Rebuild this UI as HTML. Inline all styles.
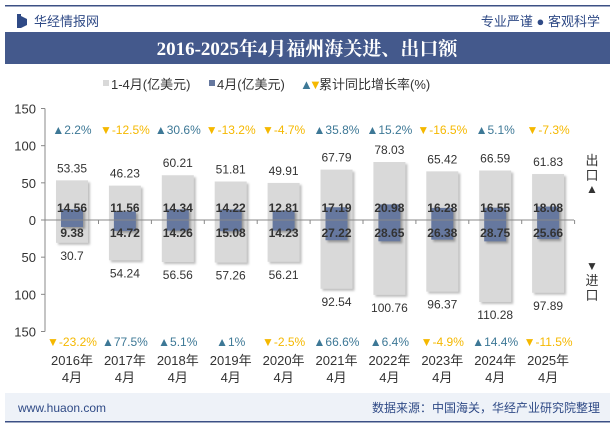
<!DOCTYPE html>
<html><head><meta charset="utf-8"><style>
body{margin:0;width:615px;height:427px;overflow:hidden;background:#fff;font-family:"Liberation Sans","Noto Sans CJK SC",sans-serif}
svg{display:block}
</style></head><body>
<svg id="c" width="615" height="427" xmlns="http://www.w3.org/2000/svg">
<rect x="5" y="5" width="605" height="1.5" fill="#3c5085"/>
<rect x="17" y="14" width="4" height="14" fill="#2f4a86"/>
<path d="M21 16 L27 19 L27 25 L21 28Z" fill="#2f4a86"/>
<text x="34" y="26" font-size="13" fill="#2f4a86">华经情报网</text>
<text x="600" y="26" font-size="13" fill="#2f4a86" text-anchor="end">专业严谨 ● 客观科学</text>
<rect x="5" y="32" width="605" height="32" fill="#44598c"/>
<text x="307" y="55" font-size="19" font-weight="bold" fill="#fff" text-anchor="middle" font-family="'Liberation Serif','Noto Serif CJK SC',serif">2016-2025年4月福州海关进、出口额</text>
<g font-size="13" fill="#333">
<rect x="103" y="80" width="6" height="6" fill="#d9d9d9"/>
<text x="111" y="89">1-4月(亿美元)</text>
<rect x="209" y="80" width="6" height="6" fill="#66789f"/>
<text x="217" y="89">4月(亿美元)</text>
<text x="300" y="89" fill="#3d7896">▲</text>
<text x="309" y="89" fill="#f5b800">▼</text>
<text x="319" y="89">累计同比增长率(%)</text>
</g>
<g id="plot"></g>
<text x="592" y="165" font-size="13" fill="#333" text-anchor="middle">出</text>
<text x="592" y="180" font-size="13" fill="#333" text-anchor="middle">口</text>
<text x="592" y="193" font-size="12" fill="#333" text-anchor="middle">▲</text>
<text x="592" y="270" font-size="12" fill="#333" text-anchor="middle">▼</text>
<text x="592" y="285" font-size="13" fill="#333" text-anchor="middle">进</text>
<text x="592" y="300" font-size="13" fill="#333" text-anchor="middle">口</text>
<rect x="5" y="393" width="605" height="29" fill="#eef2f8"/>
<rect x="5" y="421" width="605" height="1.5" fill="#3c5085"/>
<text x="18" y="412" font-size="12" fill="#2f4a86">www.huaon.com</text>
<text x="600" y="412" font-size="12" fill="#2f4a86" text-anchor="end">数据来源：中国海关，华经产业研究院整理</text>
</svg>
<script>
const years=["2016年","2017年","2018年","2019年","2020年","2021年","2022年","2023年","2024年","2025年"];
const exportYtd=[53.35,46.23,60.21,51.81,49.91,67.79,78.03,65.42,66.59,61.83];
const importYtd=[30.7,54.24,56.56,57.26,56.21,92.54,100.76,96.37,110.28,97.89];
const exportMonth=[14.56,11.56,14.34,14.22,12.81,17.19,20.98,16.28,16.55,18.08];
const importMonth=[9.38,14.72,14.26,15.08,14.23,27.22,28.65,26.38,28.75,25.66];
const exportGrowth=[2.2,-12.5,30.6,-13.2,-4.7,35.8,15.2,-16.5,5.1,-7.3];
const importGrowth=[-23.2,77.5,5.1,1,-2.5,66.6,6.4,-4.9,14.4,-11.5];
const yTicks=[150,100,50,0,-50,-100,-150];
const NS="http://www.w3.org/2000/svg";
const g=document.getElementById('plot');
const y0=220,k=111.5/150;
const yS=v=>y0-v*k;
const xS=i=>72+i*52.9;
function mk(t,a,txt){const e=document.createElementNS(NS,t);for(const n in a)e.setAttribute(n,a[n]);if(txt!==undefined)e.textContent=txt;g.appendChild(e);return e;}
let e=mk('line',{x1:45,y1:yS(150),x2:45,y2:yS(-150),stroke:'#888'});


yTicks.forEach(t=>{
 let l=mk('line',{x1:41,x2:45,y1:yS(t),y2:yS(t),stroke:'#888'});
 
 
 let s=mk('text',{x:36,y:yS(t)+5,'font-size':13,fill:'#333','text-anchor':'end'},String(Math.abs(t)));
 
 
});
years.forEach((yr,i)=>{
 const x=xS(i);
 let r=mk('rect',{x:x-16,y:yS(exportYtd[i]),width:32,height:(exportYtd[i]+importYtd[i])*k,fill:'#d9d9d9',style:'filter:drop-shadow(2px 2px 1px rgba(0,0,0,.25))'});
 
 
 let b=mk('rect',{x:x-11,y:yS(exportMonth[i]),width:22,height:(exportMonth[i]+importMonth[i])*k,fill:'#66789f',style:'filter:drop-shadow(2px 2px 1px rgba(0,0,0,.3))'});
 
 
 let t1=mk('text',{x:x,y:yS(exportYtd[i])-8,'font-size':12,fill:'#333','text-anchor':'middle'},exportYtd[i]);
 
 
 let t2=mk('text',{x:x,y:yS(-importYtd[i])+17,'font-size':12,fill:'#333','text-anchor':'middle'},importYtd[i]);
 
 
 let t3=mk('text',{x:x,y:212,'font-size':12,'font-weight':'bold',fill:'#333','text-anchor':'middle'},exportMonth[i].toFixed(2));
 
 
 let t4=mk('text',{x:x,y:237,'font-size':12,'font-weight':'bold',fill:'#333','text-anchor':'middle'},importMonth[i].toFixed(2));
 
 
 const gr=(v,yy,nm)=>{const up=v>=0;let t=mk('text',{x:x,y:yy,'font-size':12,fill:up?'#3d7896':'#f5b800','text-anchor':'middle'},(up?'▲':'▼')+v+'%');};
 gr(exportGrowth[i],134,'export-growth');
 gr(importGrowth[i],346,'import-growth');
 let a=mk('text',{x:x,y:365,'font-size':13,fill:'#333','text-anchor':'middle'},yr);
 
 
 let m=mk('text',{x:x,y:382,'font-size':13,fill:'#333','text-anchor':'middle'},'4月');
 
 
 let tk=mk('line',{x1:x+26.5,x2:x+26.5,y1:y0,y2:y0+4,stroke:'#888'});
 
 
});
e=mk('line',{x1:45,y1:y0,x2:574,y2:y0,stroke:'#888'});


</script>
</body></html>
